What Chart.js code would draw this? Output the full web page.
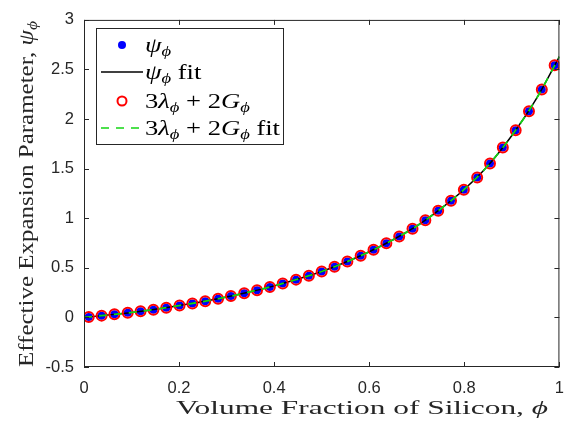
<!DOCTYPE html>
<html>
<head>
<meta charset="utf-8">
<script src="https://cdn.jsdelivr.net/npm/chart.js@4/dist/chart.umd.min.js"></script>
<style>
  html, body { margin: 0; padding: 0; background: #fff; }
  #wrap { width: 576px; height: 421px; }
</style>
</head>
<body>
<div id="wrap"><canvas id="c" width="576" height="421"></canvas></div>
<script>
// Volume fraction of silicon at the sampled points
const phi = [0.010, 0.037, 0.064, 0.092, 0.119, 0.146, 0.173, 0.201, 0.228, 0.255,
             0.282, 0.309, 0.337, 0.364, 0.391, 0.418, 0.446, 0.473, 0.500, 0.527,
             0.554, 0.582, 0.609, 0.636, 0.663, 0.691, 0.718, 0.745, 0.772, 0.799,
             0.827, 0.854, 0.881, 0.908, 0.936, 0.963, 0.990];
// Effective expansion parameter psi_phi
const psi = [0.004, 0.018, 0.032, 0.046, 0.061, 0.078, 0.098, 0.120, 0.141, 0.163,
             0.188, 0.215, 0.244, 0.273, 0.306, 0.342, 0.381, 0.421, 0.463, 0.511,
             0.564, 0.621, 0.682, 0.747, 0.817, 0.893, 0.980, 1.075, 1.177, 1.288,
             1.412, 1.553, 1.713, 1.887, 2.080, 2.297, 2.543];
// 3*lambda_phi + 2*G_phi
const lamG = [0.004, 0.018, 0.032, 0.046, 0.061, 0.078, 0.098, 0.120, 0.141, 0.163,
              0.188, 0.215, 0.244, 0.273, 0.306, 0.342, 0.381, 0.421, 0.463, 0.511,
              0.564, 0.621, 0.682, 0.747, 0.817, 0.893, 0.980, 1.075, 1.177, 1.288,
              1.412, 1.553, 1.713, 1.887, 2.080, 2.297, 2.543];
// Fitted curves
const fitPhi = [0, 0.05, 0.10, 0.15, 0.20, 0.25, 0.30, 0.35, 0.40, 0.45, 0.50,
                0.55, 0.60, 0.65, 0.70, 0.75, 0.80, 0.85, 0.90, 0.95, 1.00];
const psiFit = [0, 0.024, 0.050, 0.082, 0.120, 0.160, 0.206, 0.259, 0.318, 0.387, 0.463,
                0.556, 0.662, 0.783, 0.922, 1.094, 1.292, 1.532, 1.835, 2.193, 2.630];
const lamGFit = [0, 0.024, 0.050, 0.082, 0.120, 0.160, 0.206, 0.259, 0.318, 0.387, 0.463,
                 0.556, 0.662, 0.783, 0.922, 1.094, 1.292, 1.532, 1.835, 2.193, 2.630];
// Axis ticks
const xTicks = [0, 0.2, 0.4, 0.6, 0.8, 1];
const yTicks = [-0.5, 0, 0.5, 1, 1.5, 2, 2.5, 3];

const AX = '#262626';
const SERIF = '"Liberation Serif", "DejaVu Serif", serif';
const GREEN = '#13d613';
const pts = (xs, ys) => xs.map((v, i) => ({ x: v, y: ys[i] }));

// Draw a run of math-styled text: r = roman, i = italic, s = italic subscript
function mathFont(kind, size) {
  if (kind === 'r') return `${size}px ${SERIF}`;
  if (kind === 'i') return `italic ${size}px ${SERIF}`;
  return `italic ${Math.round(size * 0.7)}px ${SERIF}`;
}
function mathWidth(ctx, segs, size) {
  let w = 0;
  for (const [t, k] of segs) { ctx.font = mathFont(k, size); w += ctx.measureText(t).width; }
  return w;
}
function drawMath(ctx, segs, size, sx) {
  let x = 0;
  ctx.save();
  ctx.scale(sx, 1);
  ctx.textBaseline = 'alphabetic';
  ctx.textAlign = 'left';
  for (const [t, k] of segs) {
    ctx.font = mathFont(k, size);
    ctx.fillText(t, x, k === 's' ? size * 0.22 : 0);
    x += ctx.measureText(t).width;
  }
  ctx.restore();
}

const legendItems = [
  { segs: [['ψ', 'i'], ['ϕ', 's']], kind: 'dot' },
  { segs: [['ψ', 'i'], ['ϕ', 's'], [' fit', 'r']], kind: 'solid' },
  { segs: [['3', 'r'], ['λ', 'i'], ['ϕ', 's'], [' + 2', 'r'], ['G', 'i'], ['ϕ', 's']], kind: 'ring' },
  { segs: [['3', 'r'], ['λ', 'i'], ['ϕ', 's'], [' + 2', 'r'], ['G', 'i'], ['ϕ', 's'], [' fit', 'r']], kind: 'dash' }
];

const decor = {
  id: 'decor',
  afterDraw(chart) {
    const { ctx, chartArea: a, scales: { x, y } } = chart;
    ctx.save();
    // frame
    ctx.strokeStyle = AX;
    ctx.lineWidth = 1;
    ctx.strokeRect(a.left + 0.5, a.top + 0.5, a.right - a.left - 1, a.bottom - a.top - 1);
    // inward ticks on all four sides
    ctx.beginPath();
    const TL = 5;
    for (const v of xTicks) {
      const px = Math.round(x.getPixelForValue(v)) + 0.5;
      ctx.moveTo(px, a.bottom); ctx.lineTo(px, a.bottom - TL);
      ctx.moveTo(px, a.top); ctx.lineTo(px, a.top + TL);
    }
    for (const v of yTicks) {
      const py = Math.round(y.getPixelForValue(v)) + 0.5;
      ctx.moveTo(a.left, py); ctx.lineTo(a.left + TL, py);
      ctx.moveTo(a.right, py); ctx.lineTo(a.right - TL, py);
    }
    ctx.stroke();

    // axis titles
    ctx.fillStyle = AX;
    const xt = [['Volume Fraction of Silicon, ', 'r'], ['ϕ', 'i']];
    const xs = 19;
    let w = mathWidth(ctx, xt, xs);
    ctx.save();
    ctx.translate(176, 414);
    drawMath(ctx, xt, xs, 372 / w);
    ctx.restore();

    const yt = [['Effective Expansion Parameter, ', 'r'], ['ψ', 'i'], ['ϕ', 's']];
    const ys = 20;
    w = mathWidth(ctx, yt, ys);
    ctx.save();
    ctx.translate(33, 367);
    ctx.rotate(-Math.PI / 2);
    drawMath(ctx, yt, ys, 346 / w);
    ctx.restore();

    // legend
    const L = { l: 96, t: 28, r: 284, b: 145 };
    ctx.fillStyle = '#fff';
    ctx.fillRect(L.l, L.t, L.r - L.l, L.b - L.t);
    ctx.strokeStyle = AX;
    ctx.lineWidth = 1;
    ctx.strokeRect(L.l + 0.5, L.t + 0.5, L.r - L.l - 1, L.b - L.t - 1);
    const rows = [45, 72, 101, 128];
    const ls = 20;
    const lw = mathWidth(ctx, legendItems[3].segs, ls);
    const lsx = 135 / lw;
    legendItems.forEach((it, i) => {
      const cy = rows[i];
      ctx.save();
      if (it.kind === 'dot') {
        ctx.fillStyle = '#0000ff';
        ctx.beginPath(); ctx.arc(122, cy, 4, 0, Math.PI * 2); ctx.fill();
      } else if (it.kind === 'ring') {
        ctx.strokeStyle = '#ff0000'; ctx.lineWidth = 2;
        ctx.beginPath(); ctx.arc(122, cy, 4.5, 0, Math.PI * 2); ctx.stroke();
      } else if (it.kind === 'solid') {
        ctx.strokeStyle = '#000'; ctx.lineWidth = 1.5;
        ctx.beginPath(); ctx.moveTo(101, cy); ctx.lineTo(143, cy); ctx.stroke();
      } else {
        ctx.strokeStyle = GREEN; ctx.lineWidth = 1.5; ctx.setLineDash([8, 7]);
        ctx.beginPath(); ctx.moveTo(101, cy); ctx.lineTo(143, cy); ctx.stroke();
      }
      ctx.restore();
      ctx.save();
      ctx.fillStyle = '#000';
      ctx.translate(145, cy + 7);
      drawMath(ctx, it.segs, ls, lsx);
      ctx.restore();
    });
    ctx.restore();
  }
};

new Chart(document.getElementById('c'), {
  type: 'scatter',
  data: {
    datasets: [
      { label: 'psi', data: pts(phi, psi), order: 4, showLine: false,
        pointRadius: 4, pointBackgroundColor: '#0000ff', pointBorderWidth: 0, pointHoverRadius: 4 },
      { label: 'psi fit', data: pts(fitPhi, psiFit), order: 3, showLine: true,
        borderColor: '#000', borderWidth: 1.5, pointRadius: 0, cubicInterpolationMode: 'monotone' },
      { label: '3lambda+2G', data: pts(phi, lamG), order: 2, showLine: false,
        pointRadius: 5, pointBackgroundColor: 'rgba(0,0,0,0)', pointBorderColor: '#ff0000', pointBorderWidth: 2 },
      { label: '3lambda+2G fit', data: pts(fitPhi, lamGFit), order: 1, showLine: true,
        borderColor: GREEN, borderWidth: 1.8, borderDash: [8, 7], pointRadius: 0, cubicInterpolationMode: 'monotone' }
    ]
  },
  options: {
    responsive: false,
    animation: false,
    devicePixelRatio: 1,
    layout: { padding: { left: 0, top: 17, right: 14, bottom: 0 } },
    plugins: { legend: { display: false }, tooltip: { enabled: false } },
    scales: {
      x: {
        type: 'linear', min: 0, max: 1,
        afterBuildTicks: s => { s.ticks = xTicks.map(v => ({ value: v })); },
        afterFit: s => { s.height = 54; },
        grid: { display: false, drawTicks: false },
        border: { display: false },
        ticks: { color: AX, padding: 12, maxRotation: 0, autoSkip: false,
                 font: { family: '"Liberation Sans", Arial, sans-serif', size: 16.5 },
                 callback: v => String(v) }
      },
      y: {
        type: 'linear', min: -0.5, max: 3,
        afterBuildTicks: s => { s.ticks = yTicks.map(v => ({ value: v })); },
        afterFit: s => { s.width = 84; },
        grid: { display: false, drawTicks: false },
        border: { display: false },
        ticks: { color: AX, padding: 10, autoSkip: false,
                 font: { family: '"Liberation Sans", Arial, sans-serif', size: 16.5 },
                 callback: v => String(v) }
      }
    }
  },
  plugins: [decor]
});
</script>
</body>
</html>
